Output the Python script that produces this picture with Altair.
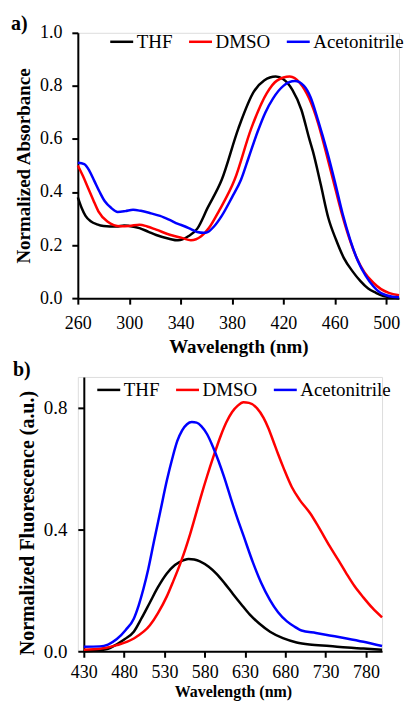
import altair as alt
import pandas as pd

SERIES = ["THF", "DMSO", "Acetonitrile"]
COLORS = ["#000000", "#FF0000", "#0000FF"]

# ---------- panel a) absorbance ----------
abs_thf_wl = [260, 263, 266, 270, 275, 280, 290, 296, 300, 308, 315, 321, 331, 338, 346, 353, 361, 372, 385,
              397, 405, 414, 420, 427, 434, 440, 443, 449, 455, 461, 467, 474, 480, 486, 492, 498, 505, 510]
abs_thf = [0.38, 0.34, 0.31, 0.29, 0.278, 0.272, 0.27, 0.274, 0.272, 0.264, 0.25, 0.238, 0.224, 0.218, 0.233,
           0.262, 0.34, 0.446, 0.64, 0.778, 0.82, 0.835, 0.825, 0.785, 0.71, 0.603, 0.553, 0.43, 0.302, 0.22,
           0.152, 0.1, 0.064, 0.036, 0.02, 0.008, 0.002, 0.0]

abs_dmso_wl = [260, 264, 268, 272, 276, 283, 293, 300, 308, 314, 321, 333, 341, 348, 356, 362, 370, 382, 395,
               407, 415, 425, 433, 440, 447, 453, 459, 465, 471, 477, 483, 490, 496, 502, 510]
abs_dmso = [0.50, 0.46, 0.415, 0.37, 0.327, 0.289, 0.271, 0.272, 0.277, 0.27, 0.258, 0.237, 0.227, 0.218, 0.233,
            0.264, 0.33, 0.446, 0.64, 0.772, 0.82, 0.835, 0.81, 0.753, 0.66, 0.553, 0.44, 0.327, 0.23, 0.152,
            0.098, 0.058, 0.034, 0.02, 0.011]

abs_acn_wl = [260, 265, 269, 273, 277, 281, 286, 291, 297, 303, 309, 316, 324, 331, 338, 343, 348, 353, 358,
              361, 366, 372, 380, 387, 393, 400, 406, 412, 420, 429, 436, 441, 447, 454, 460, 466, 472, 478,
              484, 490, 495, 500, 505, 510]
abs_acn = [0.51, 0.505, 0.48, 0.44, 0.40, 0.365, 0.34, 0.325, 0.328, 0.333, 0.329, 0.321, 0.31, 0.296, 0.28,
           0.271, 0.26, 0.249, 0.246, 0.249, 0.27, 0.31, 0.38, 0.446, 0.53, 0.628, 0.70, 0.753, 0.80, 0.818,
           0.80, 0.759, 0.67, 0.553, 0.44, 0.32, 0.22, 0.14, 0.085, 0.045, 0.022, 0.011, 0.005, 0.003]

abs_x_ticks = [260, 300, 340, 380, 420, 460, 500]
abs_y_ticks = [0.0, 0.2, 0.4, 0.6, 0.8, 1.0]

# ---------- panel b) fluorescence ----------
fl_thf_wl = [430, 450, 460, 471, 481, 492, 502, 512, 522, 533, 543, 554, 560, 567, 574, 585, 595, 605, 615,
             625, 636, 648, 661, 677, 694, 710, 735, 757, 777, 800]
fl_thf = [0.0, 0.003, 0.008, 0.023, 0.04, 0.064, 0.11, 0.16, 0.21, 0.255, 0.283, 0.299, 0.303, 0.301, 0.295,
          0.277, 0.253, 0.222, 0.188, 0.155, 0.12, 0.09, 0.064, 0.043, 0.029, 0.022, 0.017, 0.012, 0.009, 0.005]

fl_dmso_wl = [430, 450, 471, 492, 512, 522, 533, 541, 550, 556, 562, 568, 575, 583, 591, 600, 607, 614, 621,
              628, 635, 645, 653, 659, 665, 671, 678, 688, 698, 711, 721, 735, 746, 756, 766, 777, 788, 800]
fl_dmso = [0.005, 0.008, 0.02, 0.042, 0.085, 0.125, 0.18, 0.23, 0.29, 0.335, 0.385, 0.44, 0.505, 0.575, 0.64,
           0.708, 0.752, 0.785, 0.806, 0.817, 0.815, 0.797, 0.766, 0.732, 0.69, 0.647, 0.6, 0.539, 0.496, 0.452,
           0.409, 0.345, 0.298, 0.254, 0.213, 0.176, 0.142, 0.111]

fl_acn_wl = [430, 450, 460, 471, 482, 492, 498, 504, 510, 517, 525, 533, 540, 546, 552, 558, 564, 570, 576,
             583, 590, 597, 604, 612, 620, 628, 640, 650, 661, 671, 682, 692, 700, 718, 735, 756, 777, 800]
fl_acn = [0.015, 0.016, 0.022, 0.04, 0.07, 0.107, 0.15, 0.205, 0.27, 0.36, 0.46, 0.56, 0.635, 0.69, 0.725,
          0.745, 0.752, 0.75, 0.738, 0.712, 0.672, 0.625, 0.572, 0.505, 0.44, 0.38, 0.29, 0.225, 0.168, 0.128,
          0.098, 0.08, 0.068, 0.06, 0.052, 0.042, 0.031, 0.017]

fl_x_ticks = [430, 480, 530, 580, 630, 680, 730, 780]
fl_y_ticks = [0.0, 0.4, 0.8]

panel_labels = ["a)", "b)"]


def long_df(parts):
    rows = []
    for name, wl, vals in parts:
        for w, v in zip(wl, vals):
            rows.append({"Series": name, "Wavelength": w, "Value": v})
    return pd.DataFrame(rows)


df_a = long_df([("THF", abs_thf_wl, abs_thf), ("DMSO", abs_dmso_wl, abs_dmso),
                ("Acetonitrile", abs_acn_wl, abs_acn)])
df_b = long_df([("THF", fl_thf_wl, fl_thf), ("DMSO", fl_dmso_wl, fl_dmso),
                ("Acetonitrile", fl_acn_wl, fl_acn)])

FONT = "Liberation Serif"

axis_common = dict(domainColor="black", domainWidth=2, tickColor="black", tickWidth=2,
                   labelColor="black", titleColor="black", labelFont=FONT, titleFont=FONT,
                   titleFontWeight="bold", grid=False, labelOverlap=False, labelFlush=False)


def legend(x, y):
    return alt.Legend(title=None, orient="none", legendX=x, legendY=y, direction="horizontal",
                      symbolType="stroke", symbolSize=529, symbolStrokeWidth=2.5, labelFont=FONT,
                      labelFontSize=19, labelColor="black", labelOffset=2, columnPadding=11,
                      padding=0)


def panel_label(text, dx, dy):
    return alt.Chart(pd.DataFrame({"label": [text]})).mark_text(
        align="left", baseline="top", fontSize=20, fontWeight="bold", font=FONT, color="black"
    ).encode(text="label:N", x=alt.value(dx), y=alt.value(dy))


lines_a = alt.Chart(df_a).mark_line(strokeWidth=2.5, interpolate="monotone").encode(
    x=alt.X("Wavelength:Q",
            scale=alt.Scale(domain=[260, 510], nice=False, zero=False),
            axis=alt.Axis(values=abs_x_ticks, title="Wavelength (nm)", labelFontSize=18,
                          titleFontSize=19, tickSize=6, labelPadding=10, titlePadding=5,
                          **axis_common)),
    y=alt.Y("Value:Q",
            scale=alt.Scale(domain=[0, 1], nice=False),
            axis=alt.Axis(values=abs_y_ticks, format=".1f", title="Normalized Absorbance",
                          labelFontSize=18, titleFontSize=19, tickSize=6, labelPadding=10,
                          titlePadding=6, **axis_common)),
    color=alt.Color("Series:N", scale=alt.Scale(domain=SERIES, range=COLORS),
                    sort=SERIES, legend=legend(31, -4)),
)
chart_a = alt.layer(lines_a, panel_label(panel_labels[0], -67, -19)).properties(width=322, height=266)

lines_b = alt.Chart(df_b).mark_line(strokeWidth=2.5, interpolate="monotone").encode(
    x=alt.X("Wavelength:Q",
            scale=alt.Scale(domain=[430, 800], range=[6, 305], nice=False, zero=False),
            axis=alt.Axis(values=fl_x_ticks, title="Wavelength (nm)", labelFontSize=18,
                          titleFontSize=16, tickSize=6, labelPadding=6, titlePadding=2,
                          **axis_common)),
    y=alt.Y("Value:Q",
            scale=alt.Scale(domain=[0, 0.9], nice=False),
            axis=alt.Axis(values=fl_y_ticks, format=".1f", title="Normalized Fluorescence (a.u.)",
                          labelFontSize=19, titleFontSize=20, tickSize=6, labelPadding=11,
                          titlePadding=6, offset=-6, titleY=146, **axis_common)),
    color=alt.Color("Series:N", scale=alt.Scale(domain=SERIES, range=COLORS),
                    sort=SERIES, legend=legend(18, 0)),
)
chart_b = alt.layer(lines_b, panel_label(panel_labels[1], -65, -17)).properties(width=305, height=275)

chart = alt.vconcat(chart_a, chart_b, spacing=79, bounds="flush").resolve_scale(
    color="independent").resolve_legend(color="independent").configure_view(
    stroke=None).configure(font=FONT).properties(
    padding={"left": 2, "top": 4, "right": 0, "bottom": 0})

chart.save("out.html", embed_options={"renderer": "svg", "actions": False})
